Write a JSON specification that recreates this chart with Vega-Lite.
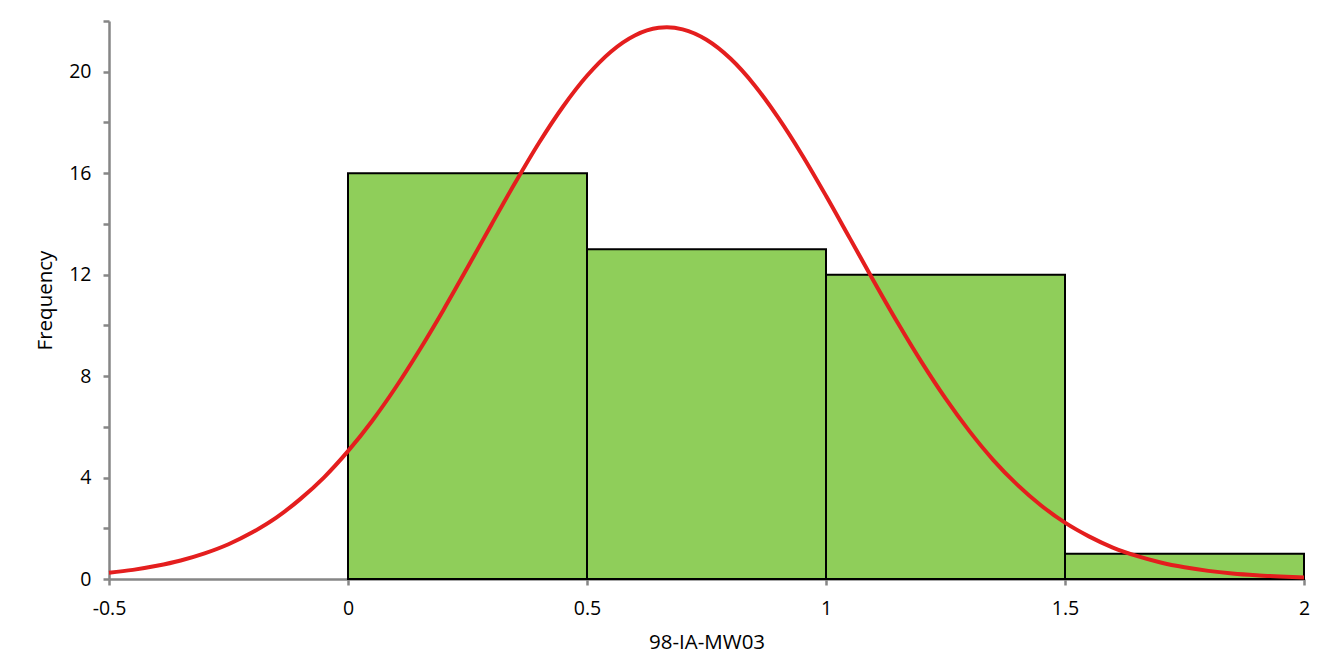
{
  "$schema": "https://vega.github.io/schema/vega-lite/v6.json",
  "width": 1195,
  "height": 558,
  "autosize": {"type": "none"},
  "padding": {"left": 109, "top": 21, "right": 28, "bottom": 81},
  "background": "white",
  "config": {
    "view": {"stroke": null},
    "font": "Open Sans",
    "axis": {
      "grid": false,
      "domainColor": "#868686",
      "domainWidth": 2.5,
      "tickColor": "#868686",
      "tickWidth": 2.5,
      "tickSize": 6,
      "labelFont": "Open Sans",
      "labelFontSize": 19.5,
      "labelColor": "#000000",
      "titleFont": "Open Sans",
      "titleFontSize": 20.5,
      "titleFontWeight": "normal",
      "titleColor": "#000000"
    }
  },
  "datasets": {
    "bins": [
      {"start": 0.0, "end": 0.5, "count": 16},
      {"start": 0.5, "end": 1.0, "count": 13},
      {"start": 1.0, "end": 1.5, "count": 12},
      {"start": 1.5, "end": 2.0, "count": 1}
    ],
    "curve": [
      {"x": -0.5, "y": 0.25}, {"x": -0.45, "y": 0.36}, {"x": -0.4, "y": 0.52}, {"x": -0.35, "y": 0.73},
      {"x": -0.3, "y": 1.01}, {"x": -0.25, "y": 1.37}, {"x": -0.2, "y": 1.84}, {"x": -0.15, "y": 2.42},
      {"x": -0.1, "y": 3.15}, {"x": -0.05, "y": 4.01}, {"x": 0.0, "y": 5.04}, {"x": 0.05, "y": 6.22},
      {"x": 0.1, "y": 7.56}, {"x": 0.15, "y": 9.04}, {"x": 0.2, "y": 10.62}, {"x": 0.25, "y": 12.28},
      {"x": 0.3, "y": 13.97}, {"x": 0.35, "y": 15.63}, {"x": 0.4, "y": 17.21}, {"x": 0.45, "y": 18.63},
      {"x": 0.5, "y": 19.84}, {"x": 0.55, "y": 20.79}, {"x": 0.6, "y": 21.43}, {"x": 0.65, "y": 21.73},
      {"x": 0.667, "y": 21.75}, {"x": 0.7, "y": 21.67}, {"x": 0.75, "y": 21.26}, {"x": 0.8, "y": 20.52},
      {"x": 0.85, "y": 19.48}, {"x": 0.9, "y": 18.19}, {"x": 0.95, "y": 16.72}, {"x": 1.0, "y": 15.11},
      {"x": 1.05, "y": 13.43}, {"x": 1.1, "y": 11.74}, {"x": 1.15, "y": 10.1}, {"x": 1.2, "y": 8.55},
      {"x": 1.25, "y": 7.12}, {"x": 1.3, "y": 5.83}, {"x": 1.35, "y": 4.69}, {"x": 1.4, "y": 3.72},
      {"x": 1.45, "y": 2.9}, {"x": 1.5, "y": 2.22}, {"x": 1.55, "y": 1.68}, {"x": 1.6, "y": 1.24},
      {"x": 1.65, "y": 0.91}, {"x": 1.7, "y": 0.65}, {"x": 1.75, "y": 0.46}, {"x": 1.8, "y": 0.32},
      {"x": 1.85, "y": 0.22}, {"x": 1.9, "y": 0.15}, {"x": 1.95, "y": 0.1}, {"x": 2.0, "y": 0.06}
    ]
  },
  "layer": [
    {
      "data": {"name": "bins"},
      "mark": {"type": "rect", "fill": "#8FCE5A", "stroke": "#000000", "strokeWidth": 2},
      "encoding": {
        "x": {
          "field": "start", "type": "quantitative",
          "scale": {"domain": [-0.5, 2], "nice": false, "zero": false},
          "axis": {"values": [-0.5, 0, 0.5, 1, 1.5, 2], "title": "98-IA-MW03", "labelPadding": 14, "titlePadding": 15, "labelFlush": false, "format": "~g", "labelExpr": "replace(datum.label, '\u2212', '-')"}
        },
        "x2": {"field": "end"},
        "y": {
          "field": "count", "type": "quantitative",
          "scale": {"domain": [0, 22], "nice": false},
          "axis": {"values": [0, 2, 4, 6, 8, 10, 12, 14, 16, 18, 20, 22], "labelExpr": "datum.value % 4 == 0 && datum.value < 22 ? datum.label : ''", "title": "Frequency", "labelPadding": 12, "titlePadding": 13}
        },
        "y2": {"datum": 0}
      }
    },
    {
      "data": {"name": "curve"},
      "mark": {"type": "line", "color": "#E41E1E", "strokeWidth": 4, "interpolate": "monotone"},
      "encoding": {
        "x": {"field": "x", "type": "quantitative"},
        "y": {"field": "y", "type": "quantitative"}
      }
    }
  ]
}
